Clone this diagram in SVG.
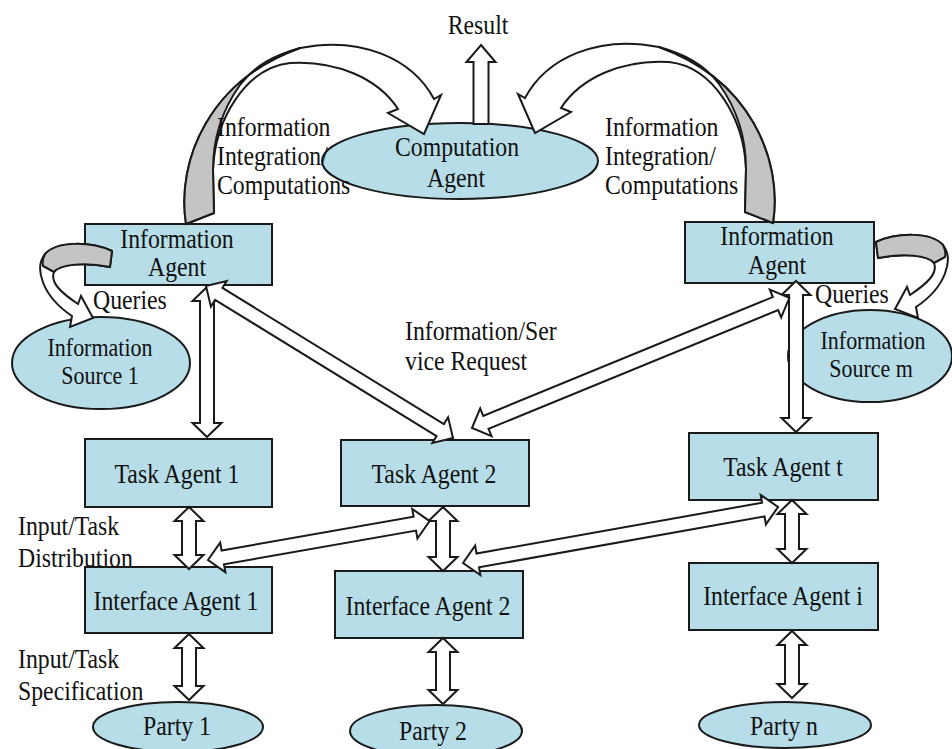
<svg xmlns="http://www.w3.org/2000/svg" width="952" height="749" viewBox="0 0 952 749">
<style>
.node{fill:#b7dee8;stroke:#1a1a1a;stroke-width:2}
.arr{fill:#fff;stroke:#1a1a1a;stroke-width:2;stroke-linejoin:miter}
.back{fill:#c4c4c4;stroke:#1a1a1a;stroke-width:2;stroke-linejoin:round}
.t{font-family:"Liberation Serif","Times New Roman",serif;font-size:27px;fill:#111}
.c{text-anchor:middle}
.s{font-size:25px}
</style>
<rect width="952" height="749" fill="#fff"/>

<g id="computation-agent">
<ellipse class="node" cx="460" cy="161" rx="138" ry="38"/>
<text class="t c" transform="translate(457,156) scale(.88 1)">Computation</text>
<text class="t c" transform="translate(456,187) scale(.88 1)">Agent</text>
</g>

<g id="info-agent-1">
<rect class="node" x="85" y="224" width="187" height="61"/>
<text class="t c" transform="translate(177,248) scale(.88 1)">Information</text>
<text class="t c" transform="translate(177,276) scale(.88 1)">Agent</text>
</g>

<g id="info-agent-2">
<rect class="node" x="685" y="222" width="189" height="61"/>
<text class="t c" transform="translate(777,245) scale(.88 1)">Information</text>
<text class="t c" transform="translate(777,274) scale(.88 1)">Agent</text>
</g>

<g id="info-source-1">
<ellipse class="node" cx="101" cy="363" rx="89" ry="46"/>
<text class="t c s" transform="translate(100,356) scale(.88 1)">Information</text>
<text class="t c s" transform="translate(100,384) scale(.88 1)">Source 1</text>
</g>

<g id="info-source-m">
<ellipse class="node" cx="870" cy="356" rx="82" ry="46"/>
<text class="t c s" transform="translate(873,349) scale(.88 1)">Information</text>
<text class="t c s" transform="translate(871,377) scale(.88 1)">Source m</text>
</g>

<g id="task-agent-1">
<rect class="node" x="85" y="439" width="187" height="68"/>
<text class="t c" transform="translate(177,483) scale(.88 1)">Task Agent 1</text>
</g>

<g id="task-agent-2">
<rect class="node" x="341" y="440" width="188" height="66"/>
<text class="t c" transform="translate(434,483) scale(.88 1)">Task Agent 2</text>
</g>

<g id="task-agent-t">
<rect class="node" x="689" y="433" width="189" height="67"/>
<text class="t c" transform="translate(783,476) scale(.88 1)">Task Agent t</text>
</g>

<g id="interface-agent-1">
<rect class="node" x="85" y="567" width="187" height="66"/>
<text class="t c" transform="translate(176,610) scale(.88 1)">Interface Agent 1</text>
</g>

<g id="interface-agent-2">
<rect class="node" x="335" y="571" width="188" height="67"/>
<text class="t c" transform="translate(428,615) scale(.88 1)">Interface Agent 2</text>
</g>

<g id="interface-agent-i">
<rect class="node" x="689" y="563" width="189" height="67"/>
<text class="t c" transform="translate(783,605) scale(.88 1)">Interface Agent i</text>
</g>

<g id="party-1">
<ellipse class="node" cx="178" cy="727" rx="85" ry="25"/>
<text class="t c" transform="translate(177,735) scale(.88 1)">Party 1</text>
</g>

<g id="party-2">
<ellipse class="node" cx="436" cy="731" rx="86" ry="26"/>
<text class="t c" transform="translate(433,740) scale(.88 1)">Party 2</text>
</g>

<g id="party-n">
<ellipse class="node" cx="785" cy="725" rx="86" ry="23"/>
<text class="t c" transform="translate(784,735) scale(.88 1)">Party n</text>
</g>

<g id="connectors">
<!-- Result -->
<polygon class="arr" points="481,45 495.5,62 488.5,62 488.5,124 473.5,124 473.5,62 466.5,62"/>
<!-- big curved arrow left -->
<g id="curve-left">
<path class="arr" d="M186,224 C176,160 210,80 300,48 C360,36 412,58 434,99 L441,95 L424,134 L388,113 L398,109 C378,78 335,60 290,63 C245,68 215,120 213,170 L214,213 Z"/>
<path class="back" d="M186,224 C176,160 210,80 300,48 C275,55 255,65 240,85 C222,110 213,140 213,170 L214,213 Z"/>
</g>
<!-- big curved arrow right (mirror) -->
<g id="curve-right" transform="matrix(-1 0 0 1 959 -1)">
<path class="arr" d="M186,224 C176,160 210,80 300,48 C360,36 412,58 434,99 L441,95 L424,134 L388,113 L398,109 C378,78 335,60 290,63 C245,68 215,120 213,170 L214,213 Z"/>
<path class="back" d="M186,224 C176,160 210,80 300,48 C275,55 255,65 240,85 C222,110 213,140 213,170 L214,213 Z"/>
</g>
<!-- queries left -->
<g id="queries-left">
<path class="arr" d="M112,251 C92,242 58,240 45,254 C34,268 42,296 72,316 L70,327 L93,318 L81,296 L78,304 C60,292 50,282 54,272 C60,264 85,262 110,267 Z"/>
<path class="back" d="M112,251 C92,242 58,240 45,254 C43,258 42,262 43,266 L54,272 C60,264 85,262 110,267 Z"/>
</g>
<g id="queries-right" transform="matrix(-1 0 0 1 988 -9)">
<path class="arr" d="M112,251 C92,242 58,240 45,254 C34,268 42,296 72,316 L70,327 L93,318 L81,296 L78,304 C60,292 50,282 54,272 C60,264 85,262 110,267 Z"/>
<path class="back" d="M112,251 C92,242 58,240 45,254 C43,258 42,262 43,266 L54,272 C60,264 85,262 110,267 Z"/>
</g>
<!-- vertical double arrows -->
<polygon class="arr" transform="translate(207,287) rotate(90)" points="0,0 14,-14.5 14,-7 136,-7 136,-14.5 150,0 136,14.5 136,7 14,7 14,14.5"/>
<polygon class="arr" transform="translate(796,281) rotate(90)" points="0,0 14,-14.5 14,-7 137,-7 137,-14.5 151,0 137,14.5 137,7 14,7 14,14.5"/>
<polygon class="arr" transform="translate(189,507) rotate(90)" points="0,0 14,-14.5 14,-7 48,-7 48,-14.5 62,0 48,14.5 48,7 14,7 14,14.5"/>
<polygon class="arr" transform="translate(189,634) rotate(90)" points="0,0 14,-14.5 14,-7 52,-7 52,-14.5 66,0 52,14.5 52,7 14,7 14,14.5"/>
<polygon class="arr" transform="translate(443,507) rotate(90)" points="0,0 14,-14.5 14,-7 50,-7 50,-14.5 64,0 50,14.5 50,7 14,7 14,14.5"/>
<polygon class="arr" transform="translate(443,638) rotate(90)" points="0,0 14,-14.5 14,-7 52,-7 52,-14.5 66,0 52,14.5 52,7 14,7 14,14.5"/>
<polygon class="arr" transform="translate(792,500) rotate(90)" points="0,0 14,-14.5 14,-7 49,-7 49,-14.5 63,0 49,14.5 49,7 14,7 14,14.5"/>
<polygon class="arr" transform="translate(792,631) rotate(90)" points="0,0 14,-14.5 14,-7 53,-7 53,-14.5 67,0 53,14.5 53,7 14,7 14,14.5"/>
<!-- diagonal double arrows -->
<polygon class="arr" transform="translate(206,286) rotate(31.6)" points="0,0 15,-15 15,-7 275,-7 275,-15 290,0 275,15 275,7 15,7 15,15"/>
<polygon class="arr" transform="translate(472,428) rotate(-22.3)" points="0,0 15,-15 15,-7 328,-7 328,-15 343,0 328,15 328,7 15,7 15,15"/>
<polygon class="arr" transform="translate(208,560) rotate(-9.96)" points="0,0 15,-15 15,-7 210,-7 210,-15 225,0 210,15 210,7 15,7 15,15"/>
<polygon class="arr" transform="translate(463,563) rotate(-10.08)" points="0,0 15,-15 15,-7 305,-7 305,-15 320,0 305,15 305,7 15,7 15,15"/>
</g>

<g id="labels">
<text class="t c" transform="translate(478,34) scale(.88 1)">Result</text>
<text class="t" transform="translate(217,136) scale(.88 1)">Information</text>
<text class="t" transform="translate(217,165) scale(.88 1)">Integration/</text>
<text class="t" transform="translate(217,194) scale(.88 1)">Computations</text>
<text class="t" transform="translate(605,136) scale(.88 1)">Information</text>
<text class="t" transform="translate(605,165) scale(.88 1)">Integration/</text>
<text class="t" transform="translate(605,194) scale(.88 1)">Computations</text>
<text class="t" transform="translate(405,340) scale(.88 1)">Information/Ser</text>
<text class="t" transform="translate(405,370) scale(.88 1)">vice Request</text>
<text class="t" transform="translate(93,309) scale(.88 1)">Queries</text>
<text class="t" transform="translate(815,303) scale(.88 1)">Queries</text>
<text class="t" transform="translate(18,535) scale(.88 1)">Input/Task</text>
<text class="t" transform="translate(18,567) scale(.88 1)">Distribution</text>
<text class="t" transform="translate(18,668) scale(.88 1)">Input/Task</text>
<text class="t" transform="translate(18,700) scale(.88 1)">Specification</text>
</g>
</svg>
